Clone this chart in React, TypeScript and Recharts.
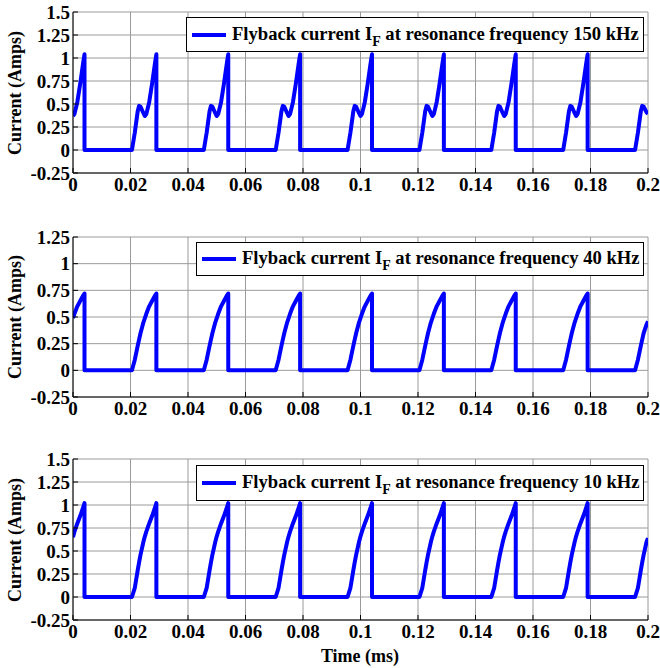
import React from 'react';
import { LineChart, Line, XAxis, YAxis, CartesianGrid } from 'recharts';

// time (ms) samples, shared by the three traces
const TIME = [
  0, 0.0005, 0.0015, 0.0025, 0.0035, 0.004, 0.004,
  0.0205, 0.0215, 0.0225, 0.023, 0.0235, 0.0245, 0.025, 0.0255, 0.0265, 0.0275, 0.0285, 0.029, 0.029,
  0.0455, 0.0465, 0.0475, 0.048, 0.0485, 0.0495, 0.05, 0.0505, 0.0515, 0.0525, 0.0535, 0.054, 0.054,
  0.0705, 0.0715, 0.0725, 0.073, 0.0735, 0.0745, 0.075, 0.0755, 0.0765, 0.0775, 0.0785, 0.079, 0.079,
  0.0955, 0.0965, 0.0975, 0.098, 0.0985, 0.0995, 0.1, 0.1005, 0.1015, 0.1025, 0.1035, 0.104, 0.104,
  0.1205, 0.1215, 0.1225, 0.123, 0.1235, 0.1245, 0.125, 0.1255, 0.1265, 0.1275, 0.1285, 0.129, 0.129,
  0.1455, 0.1465, 0.1475, 0.148, 0.1485, 0.1495, 0.15, 0.1505, 0.1515, 0.1525, 0.1535, 0.154, 0.154,
  0.1705, 0.1715, 0.1725, 0.173, 0.1735, 0.1745, 0.175, 0.1755, 0.1765, 0.1775, 0.1785, 0.179, 0.179,
  0.1955, 0.1965, 0.1975, 0.198, 0.1985, 0.1995, 0.2,
];

const IF_150K = [
  0.37, 0.39, 0.52, 0.72, 0.94, 1.04, 0,
  0, 0.19, 0.42, 0.48, 0.47, 0.4, 0.37, 0.39, 0.52, 0.72, 0.94, 1.04, 0,
  0, 0.19, 0.42, 0.48, 0.47, 0.4, 0.37, 0.39, 0.52, 0.72, 0.94, 1.04, 0,
  0, 0.19, 0.42, 0.48, 0.47, 0.4, 0.37, 0.39, 0.52, 0.72, 0.94, 1.04, 0,
  0, 0.19, 0.42, 0.48, 0.47, 0.4, 0.37, 0.39, 0.52, 0.72, 0.94, 1.04, 0,
  0, 0.19, 0.42, 0.48, 0.47, 0.4, 0.37, 0.39, 0.52, 0.72, 0.94, 1.04, 0,
  0, 0.19, 0.42, 0.48, 0.47, 0.4, 0.37, 0.39, 0.52, 0.72, 0.94, 1.04, 0,
  0, 0.19, 0.42, 0.48, 0.47, 0.4, 0.37, 0.39, 0.52, 0.72, 0.94, 1.04, 0,
  0, 0.19, 0.42, 0.48, 0.47, 0.41, 0.39,
];

const IF_40K = [
  0.49, 0.53, 0.6, 0.65, 0.7, 0.72, 0,
  0, 0.1, 0.23, 0.29, 0.35, 0.45, 0.49, 0.53, 0.6, 0.65, 0.7, 0.72, 0,
  0, 0.1, 0.23, 0.29, 0.35, 0.45, 0.49, 0.53, 0.6, 0.65, 0.7, 0.72, 0,
  0, 0.1, 0.23, 0.29, 0.35, 0.45, 0.49, 0.53, 0.6, 0.65, 0.7, 0.72, 0,
  0, 0.1, 0.23, 0.29, 0.35, 0.45, 0.49, 0.53, 0.6, 0.65, 0.7, 0.72, 0,
  0, 0.1, 0.23, 0.29, 0.35, 0.45, 0.49, 0.53, 0.6, 0.65, 0.7, 0.72, 0,
  0, 0.1, 0.23, 0.29, 0.35, 0.45, 0.49, 0.53, 0.6, 0.65, 0.7, 0.72, 0,
  0, 0.1, 0.23, 0.29, 0.35, 0.45, 0.49, 0.53, 0.6, 0.65, 0.7, 0.72, 0,
  0, 0.1, 0.23, 0.29, 0.35, 0.43, 0.46,
];

const IF_10K = [
  0.65, 0.71, 0.8, 0.88, 0.97, 1.02, 0,
  0, 0.1, 0.29, 0.38, 0.46, 0.6, 0.66, 0.71, 0.8, 0.88, 0.97, 1.02, 0,
  0, 0.1, 0.29, 0.38, 0.46, 0.6, 0.66, 0.71, 0.8, 0.88, 0.97, 1.02, 0,
  0, 0.1, 0.29, 0.38, 0.46, 0.6, 0.66, 0.71, 0.8, 0.88, 0.97, 1.02, 0,
  0, 0.1, 0.29, 0.38, 0.46, 0.6, 0.66, 0.71, 0.8, 0.88, 0.97, 1.02, 0,
  0, 0.1, 0.29, 0.38, 0.46, 0.6, 0.66, 0.71, 0.8, 0.88, 0.97, 1.02, 0,
  0, 0.1, 0.29, 0.38, 0.46, 0.6, 0.66, 0.71, 0.8, 0.88, 0.97, 1.02, 0,
  0, 0.1, 0.29, 0.38, 0.46, 0.6, 0.66, 0.71, 0.8, 0.88, 0.97, 1.02, 0,
  0, 0.1, 0.29, 0.38, 0.46, 0.6, 0.64,
];

const X_TICKS = [0, 0.02, 0.04, 0.06, 0.08, 0.1, 0.12, 0.14, 0.16, 0.18, 0.2];
const Y_TICKS_TALL = [-0.25, 0, 0.25, 0.5, 0.75, 1, 1.25, 1.5];
const Y_TICKS_SHORT = [-0.25, 0, 0.25, 0.5, 0.75, 1, 1.25];

const FONT = '"Liberation Serif", "Times New Roman", serif';
const tickStyle = { fontSize: 19, fontWeight: 700, fill: '#000', fontFamily: FONT };

interface PanelProps {
  top: number;
  height: number;
  marginTop: number;
  values: number[];
  yTicks: number[];
  freq: string;
  legendLeft: number;
  legendTop: number;
  legendHeight: number;
}

const Panel: React.FC<PanelProps> = ({ top, height, marginTop, values, yTicks, freq, legendLeft, legendTop, legendHeight }) => {
  const rows = TIME.map((t, i) => ({ t, v: values[i] }));
  const plotTop = top + marginTop;
  const plotBottom = top + height - 28;

  return (
    <>
      <div style={{ position: 'absolute', left: 0, top, width: 660, height }}>
        <LineChart width={660} height={height} data={rows} margin={{ top: marginTop, right: 12, bottom: 0, left: 0 }}>
          <CartesianGrid stroke="#9a9a9a" strokeWidth={1} />
          <XAxis
            dataKey="t"
            type="number"
            domain={[0, 0.2]}
            ticks={X_TICKS}
            interval={0}
            allowDataOverflow
            height={28}
            tickSize={-5}
            tickMargin={10}
            tick={tickStyle}
            axisLine={{ stroke: '#000' }}
            tickLine={{ stroke: '#000' }}
          />
          <XAxis
            xAxisId="top"
            orientation="top"
            type="number"
            domain={[0, 0.2]}
            ticks={X_TICKS}
            interval={0}
            height={0}
            tickSize={-5}
            tick={false}
            axisLine={{ stroke: '#000' }}
            tickLine={{ stroke: '#000' }}
          />
          <YAxis
            type="number"
            domain={[yTicks[0], yTicks[yTicks.length - 1]]}
            ticks={yTicks}
            interval={0}
            allowDataOverflow
            width={73}
            tickSize={-5}
            tickMargin={8}
            tick={tickStyle}
            axisLine={{ stroke: '#000' }}
            tickLine={{ stroke: '#000' }}
          />
          <YAxis
            yAxisId="right"
            orientation="right"
            type="number"
            domain={[yTicks[0], yTicks[yTicks.length - 1]]}
            ticks={yTicks}
            interval={0}
            width={0}
            tickSize={-5}
            tick={false}
            axisLine={{ stroke: '#000' }}
            tickLine={{ stroke: '#000' }}
          />
          <Line
            dataKey="v"
            type="linear"
            stroke="#0000ff"
            strokeWidth={4}
            strokeLinejoin="round"
            dot={false}
            isAnimationActive={false}
          />
        </LineChart>
      </div>

      <div
        style={{
          position: 'absolute',
          left: 15,
          top: (plotTop + plotBottom) / 2,
          transform: 'translate(-50%, -50%) rotate(-90deg)',
          whiteSpace: 'nowrap',
          fontFamily: FONT,
          fontWeight: 700,
          fontSize: 18,
        }}
      >
        Current (Amps)
      </div>

      <div
        style={{
          position: 'absolute',
          left: legendLeft,
          top: legendTop,
          width: 644 - legendLeft,
          height: legendHeight,
          boxSizing: 'border-box',
          border: '1.5px solid #000',
          background: '#fff',
          display: 'flex',
          alignItems: 'center',
          fontFamily: FONT,
          fontWeight: 700,
          fontSize: 18.6,
          whiteSpace: 'nowrap',
        }}
      >
        <span style={{ display: 'inline-block', width: 34, height: 4, background: '#0000ff', marginLeft: 5 }} />
        <span style={{ marginLeft: 6, position: 'relative', top: -1 }}>
          Flyback current I<span style={{ fontSize: 14, position: 'relative', top: 6 }}>F</span> at resonance frequency {freq}
        </span>
      </div>
    </>
  );
};

export default function App() {
  return (
    <div style={{ position: 'absolute', left: 0, top: 0, width: 660, height: 668, background: '#fff', overflow: 'hidden' }}>
      <Panel top={0} height={201} marginTop={12} values={IF_150K} yTicks={Y_TICKS_TALL} freq="150 kHz" legendLeft={186} legendTop={17} legendHeight={35} />
      <Panel top={210} height={215} marginTop={27} values={IF_40K} yTicks={Y_TICKS_SHORT} freq="40 kHz" legendLeft={196} legendTop={242} legendHeight={34} />
      <Panel top={430} height={218} marginTop={29} values={IF_10K} yTicks={Y_TICKS_TALL} freq="10 kHz" legendLeft={196} legendTop={465} legendHeight={36} />
      <div
        style={{
          position: 'absolute',
          left: 360,
          top: 656,
          transform: 'translate(-50%, -50%)',
          whiteSpace: 'nowrap',
          fontFamily: FONT,
          fontWeight: 700,
          fontSize: 18,
        }}
      >
        Time (ms)
      </div>
    </div>
  );
}
